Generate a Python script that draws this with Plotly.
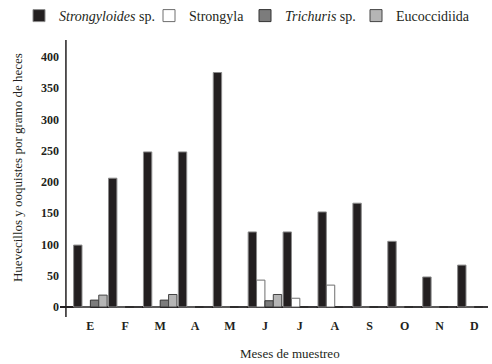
import plotly.graph_objects as go

months = ["E", "F", "M", "A", "M", "J", "J", "A", "S", "O", "N", "D"]
strongyloides = [99, 206, 248, 248, 375, 120, 120, 152, 166, 105, 48, 67]
strongyla = [0, 0, 0, 0, 0, 43, 14, 35, 0, 0, 0, 0]
trichuris = [11, 0, 11, 0, 0, 10, 0, 0, 0, 0, 0, 0]
eucoccidiida = [19, 0, 20, 0, 0, 20, 0, 0, 0, 0, 0, 0]
yticks = [0, 50, 100, 150, 200, 250, 300, 350, 400]

x = list(range(len(months)))
FONT = "Liberation Serif"
INK = "#231f20"
W, H = 492, 364

fig = go.Figure()
series = [
    ("<i>Strongyloides</i> sp.", strongyloides, "#231f20", "#8a8a8a", "legend", 19),
    ("Strongyla", strongyla, "#ffffff", "#6e6e6e", "legend2", 149),
    ("<i>Trichuris</i> sp.", trichuris, "#7c7c7c", "#333333", "legend3", 245),
    ("Eucoccidiida", eucoccidiida, "#b5b5b5", "#444444", "legend4", 356),
]
legends = {}
for name, vals, fill, line, lg, lx in series:
    fig.add_trace(go.Bar(
        x=x, y=vals, name=name, legend=lg,
        marker=dict(color=fill, line=dict(color=line, width=1)),
    ))
    legends[lg] = dict(
        orientation="h", xref="container", yref="container",
        x=lx / W, y=1.0, xanchor="left", yanchor="top",
        font=dict(family=FONT, size=14, color=INK),
        itemwidth=30, bgcolor="rgba(0,0,0,0)",
    )

fig.update_layout(
    width=W, height=H,
    margin=dict(l=60, r=4, t=40, b=47, autoexpand=False),
    plot_bgcolor="white", paper_bgcolor="white",
    barmode="group", bargap=0.04, bargroupgap=0.0,
    font=dict(family=FONT, size=13, color=INK),
    showlegend=True,
    xaxis=dict(
        range=[-0.87, 11.39], tickvals=x, ticktext=months,
        showgrid=False, zeroline=False, showline=False, ticks="",
        tickfont=dict(family=FONT, size=12, color=INK, weight="bold"),
        ticklabelstandoff=0,
    ),
    yaxis=dict(
        range=[-16, 427], tickvals=yticks,
        showgrid=False, showline=False, ticks="",
        zeroline=True, zerolinecolor=INK, zerolinewidth=1.5,
        tickfont=dict(family=FONT, size=12, color=INK, weight="bold"),
        ticklabelstandoff=0,
    ),
    annotations=[
        dict(
            text="Huevecillos y ooquistes por gramo de heces",
            xref="paper", yref="paper", x=-0.098, y=0.538,
            xanchor="center", yanchor="middle",
            textangle=-90, showarrow=False, font=dict(family=FONT, size=13, color=INK),
        ),
        dict(
            text="Meses de muestreo",
            xref="paper", yref="paper", x=0.537, y=-0.13,
            xanchor="center", yanchor="middle",
            showarrow=False, font=dict(family=FONT, size=13, color=INK),
        ),
    ],
    shapes=[dict(
        type="line", xref="x", yref="paper", x0=-0.70, x1=-0.70, y0=0, y1=1,
        line=dict(color=INK, width=1.5),
    )],
    **legends,
)

fig.write_html(
    "out.html",
    config={"displayModeBar": False},
    post_script="document.body.style.margin='0';",
)
